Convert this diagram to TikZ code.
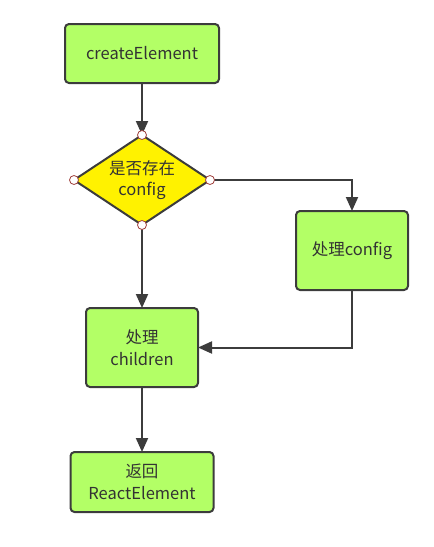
\documentclass[tikz,border=0pt]{standalone}
\usepackage{fontspec}
\setmainfont{Noto Sans CJK SC}
\usetikzlibrary{shapes.geometric,arrows.meta,positioning}

\definecolor{boxgreen}{HTML}{B3FF66}
\definecolor{boxline}{HTML}{3C3C3C}
\definecolor{portred}{HTML}{A0403C}
\definecolor{txtgray}{HTML}{333333}

\tikzset{
  stepbox/.style={draw=boxline, line width=2pt, fill=boxgreen, rounded corners=4pt,
    align=center, text=txtgray, font=\fontsize{16.5}{22}\selectfont, outer sep=0pt},
  decision/.style={diamond, draw=boxline, line width=2pt, fill=yellow, aspect=1.5,
    minimum width=136pt, minimum height=90pt, inner sep=0pt, align=center,
    text=txtgray, font=\fontsize{16.5}{21}\selectfont, outer sep=0pt},
  port/.style={circle, draw=portred, fill=white, line width=0.8pt,
    minimum size=9pt, inner sep=0pt},
  flow/.style={draw=boxline, line width=2pt,
    -{Triangle[length=14pt,width=12pt]}}
}

\begin{document}
\begin{tikzpicture}[x=1pt,y=1pt]
 \useasboundingbox (0,0) rectangle (434,-547);

 \node[stepbox, minimum width=154pt, minimum height=59pt] (create) at (142,-53.5) {createElement};

 \node[decision] (cond) at (142,-180) {是否存在\\config};
 \node[stepbox, minimum width=112pt, minimum height=79pt] (config) at (352,-250.5) {处理config};
 \node[stepbox, minimum width=112pt, minimum height=79pt] (children) at (142,-347.5) {处理\\children};
 \node[stepbox, minimum width=143pt, minimum height=60pt, below = 65pt of children] (result) {返回\\ReactElement};

 \draw[flow] (create) -- (cond);
 \draw[flow] (cond) -- (children);
 \draw[flow] (cond.east) -| (config);
 \draw[flow] (config) |- (children);
 \draw[flow] (children) -- (result);

 \node[port] (pn) at (cond.north) {};
 \node[port] (ps) at (cond.south) {};
 \node[port] (pw) at (cond.west) {};
 \node[port] (pe) at (cond.east) {};

\end{tikzpicture}
\end{document}
